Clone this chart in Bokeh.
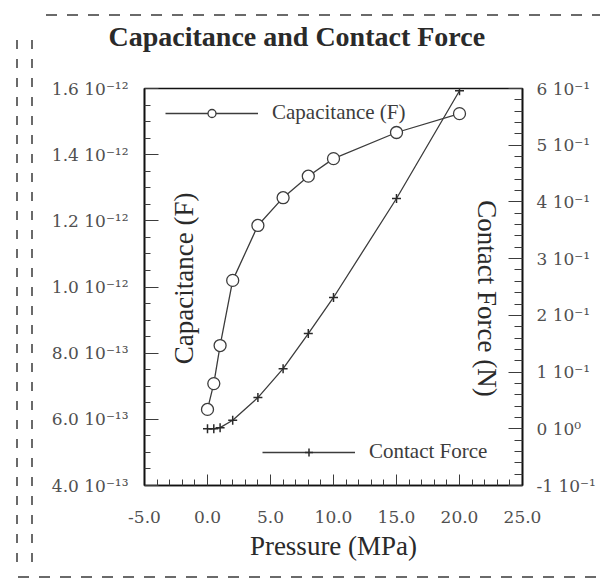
import math
from bokeh.plotting import figure
from bokeh.models import (Range1d, LinearAxis, FixedTicker, CustomJSTickFormatter,
                          Legend, LegendItem, Label, Title, InlineStyleSheet)
from bokeh.embed import file_html
from bokeh.resources import INLINE

# ---- data ----
pressure_cap = [0.0, 0.5, 1.0, 2.0, 4.0, 6.0, 8.0, 10.0, 15.0, 20.0]
capacitance = [6.3e-13, 7.08e-13, 8.23e-13, 1.02e-12, 1.186e-12, 1.27e-12,
               1.335e-12, 1.388e-12, 1.467e-12, 1.524e-12]

pressure_force = [0.0, 0.5, 1.0, 2.0, 4.0, 6.0, 8.0, 10.0, 15.0, 20.0]
contact_force = [0.0, 0.0, 0.002, 0.015, 0.055, 0.106, 0.168, 0.2315, 0.406, 0.596]

x_tick_values = [-5.0, 0.0, 5.0, 10.0, 15.0, 20.0, 25.0]
x_tick_labels = ["-5.0", "0.0", "5.0", "10.0", "15.0", "20.0", "25.0"]
left_tick_values = [4e-13, 6e-13, 8e-13, 1.0e-12, 1.2e-12, 1.4e-12, 1.6e-12]
left_tick_labels = ["4.0 10\u207b\u00b9\u00b3", "6.0 10\u207b\u00b9\u00b3", "8.0 10\u207b\u00b9\u00b3",
                    "1.0 10\u207b\u00b9\u00b2", "1.2 10\u207b\u00b9\u00b2", "1.4 10\u207b\u00b9\u00b2",
                    "1.6 10\u207b\u00b9\u00b2"]
right_tick_values = [-0.1, 0.0, 0.1, 0.2, 0.3, 0.4, 0.5, 0.6]
right_tick_labels = ["-1 10\u207b\u00b9", "0 10\u2070", "1 10\u207b\u00b9", "2 10\u207b\u00b9",
                     "3 10\u207b\u00b9", "4 10\u207b\u00b9", "5 10\u207b\u00b9", "6 10\u207b\u00b9"]

TITLE = "Capacitance and Contact Force"
X_LABEL = "Pressure (MPa)"
Y_LEFT_LABEL = "Capacitance (F)"
Y_RIGHT_LABEL = "Contact Force (N)"
LEGEND_FORCE = "Contact Force"

SERIF = "Liberation Serif"
TICK_FONT = "DejaVu Serif"
INK = "#2a2a2a"
GREY = "#3c3c3c"
TICK_GREY = "#505050"

def minor(vals, n):
    out = []
    for a, b in zip(vals[:-1], vals[1:]):
        for k in range(1, n):
            out.append(a + (b - a) * k / n)
    return out

fmt_code = """
let best = 0, bd = Infinity;
for (let i = 0; i < vals.length; i++) {
  const d = Math.abs(vals[i] - tick);
  if (d < bd) { bd = d; best = i; }
}
return labs[best];
"""

# dashed frame of the scanned page (pure decoration, CSS overlay)
border_css = """
:host::after {
  content: "";
  position: absolute;
  left: 0; top: 0; width: 600px; height: 579px;
  pointer-events: none;
  z-index: 10;
  background:
    repeating-linear-gradient(to right, #6a6a6a 0 11px, transparent 11px 21px) 46px 14px / 560px 2px no-repeat,
    repeating-linear-gradient(to bottom, #6a6a6a 0 9px, transparent 9px 19px) 16px 40px / 2px 530px no-repeat,
    repeating-linear-gradient(to bottom, #6a6a6a 0 9px, transparent 9px 19px) 31px 40px / 2px 530px no-repeat,
    repeating-linear-gradient(to right, #6a6a6a 0 11px, transparent 11px 21px) 18px 576px / 590px 2px no-repeat;
}
"""

p = figure(width=600, height=579, output_backend="svg", toolbar_location=None,
           x_range=Range1d(-5, 25), y_range=Range1d(4e-13, 1.6e-12),
           min_border_left=144, min_border_right=78, min_border_top=88, min_border_bottom=94,
           background_fill_color="white", border_fill_color="white")
p.stylesheets = [InlineStyleSheet(css=border_css)]
p.grid.visible = False
p.outline_line_color = "#111111"
p.outline_line_width = 1.6

p.extra_y_ranges = {"force": Range1d(-0.1, 0.6)}

# x axis
xa = p.xaxis[0]
xa.ticker = FixedTicker(ticks=x_tick_values, minor_ticks=minor(x_tick_values, 5))
xa.formatter = CustomJSTickFormatter(args=dict(vals=x_tick_values, labs=x_tick_labels), code=fmt_code)
xa.axis_label = X_LABEL

# left axis
ya = p.yaxis[0]
ya.ticker = FixedTicker(ticks=left_tick_values, minor_ticks=minor(left_tick_values, 4))
ya.formatter = CustomJSTickFormatter(args=dict(vals=left_tick_values, labs=left_tick_labels), code=fmt_code)

# right axis
ra = LinearAxis(y_range_name="force")
ra.ticker = FixedTicker(ticks=right_tick_values, minor_ticks=minor(right_tick_values, 5))
ra.formatter = CustomJSTickFormatter(args=dict(vals=right_tick_values, labs=right_tick_labels), code=fmt_code)
p.add_layout(ra, "right")

for ax, tin, min_in, stand in ((xa, 11, 6, 25), (ya, 14, 6, 16), (ra, 14, 8, 14)):
    ax.axis_line_color = "#111111"
    ax.axis_line_width = 1.6
    ax.major_tick_in = tin
    ax.major_tick_out = 0
    ax.minor_tick_in = min_in
    ax.minor_tick_out = 0
    ax.major_tick_line_color = GREY
    ax.minor_tick_line_color = GREY
    ax.major_label_text_font = TICK_FONT
    ax.major_label_text_font_size = "17px"
    ax.major_label_text_color = TICK_GREY
    ax.major_label_standoff = stand

xa.axis_label_text_font = SERIF
xa.axis_label_text_font_size = "27px"
xa.axis_label_text_font_style = "normal"
xa.axis_label_text_color = INK
xa.axis_label_standoff = 5

# title, lifted away from the frame by an empty spacer title
p.title = Title(text=TITLE, align="left", offset=-36, text_font=SERIF,
                text_font_size="28px", text_font_style="bold", text_color=INK, standoff=8)
p.add_layout(Title(text=" ", text_font_size="10px", standoff=20), "above")

# series
cap_line = p.line(pressure_cap, capacitance, line_color=GREY, line_width=1.3)
cap_pts = p.scatter(pressure_cap, capacitance, marker="circle", size=12,
                    fill_color="white", line_color=GREY, line_width=1.3)
f_line = p.line(pressure_force, contact_force, y_range_name="force", line_color=GREY, line_width=1.3)
f_pts = p.scatter(pressure_force, contact_force, y_range_name="force", marker="cross", size=9,
                  line_color=INK, line_width=1.5)

for loc, item in (((21, 360), LegendItem(label=Y_LEFT_LABEL, renderers=[cap_line, cap_pts])),
                  ((118, 21), LegendItem(label=LEGEND_FORCE, renderers=[f_line, f_pts]))):
    lg = Legend(items=[item], location=loc, glyph_width=93, glyph_height=20, label_standoff=14,
                padding=0, margin=0, border_line_color=None, background_fill_alpha=0,
                label_text_font=SERIF, label_text_font_size="21px", label_text_color=GREY)
    p.add_layout(lg)

# rotated axis titles drawn inside the frame
p.add_layout(Label(x=-1.9, y=1.026e-12, text=Y_LEFT_LABEL, angle=math.pi / 2,
                   text_align="center", text_baseline="middle", text_font=SERIF,
                   text_font_size="27px", text_color=INK))
p.add_layout(Label(x=22.2, y=0.965e-12, text=Y_RIGHT_LABEL, angle=-math.pi / 2,
                   text_align="center", text_baseline="middle", text_font=SERIF,
                   text_font_size="27px", text_color=INK))

open("out.html", "w").write(file_html(p, INLINE))
